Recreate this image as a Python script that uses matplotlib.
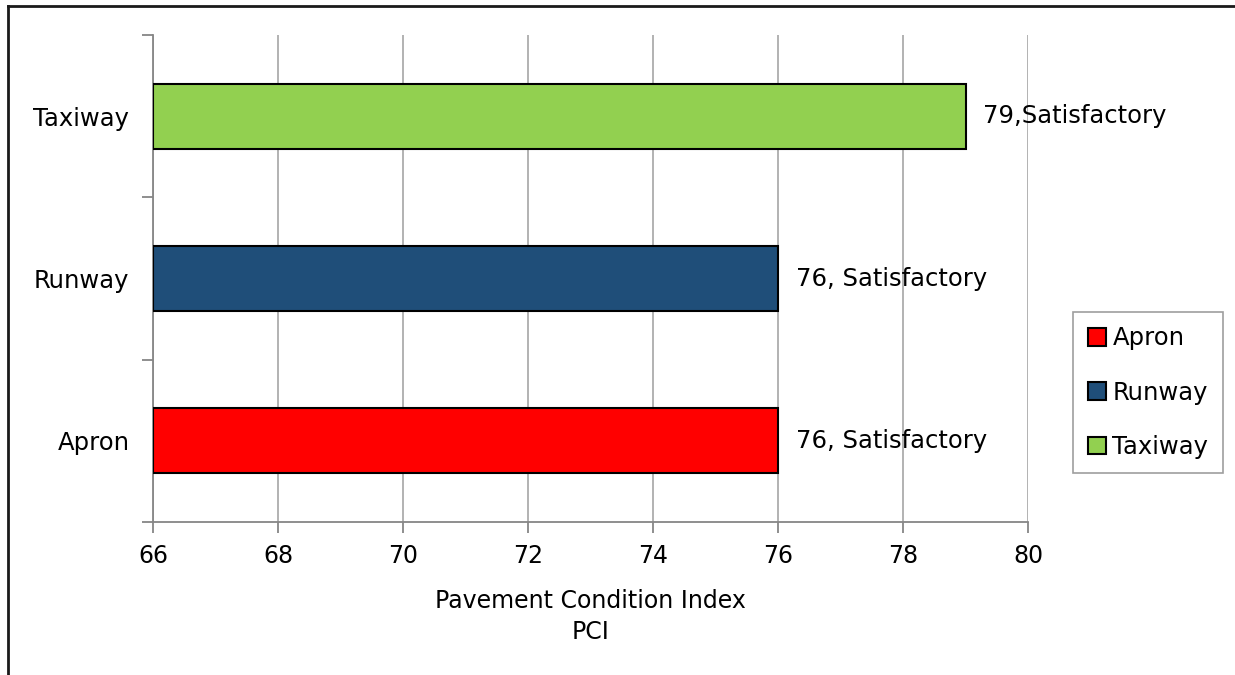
import matplotlib.pyplot as plt
from matplotlib.lines import Line2D
from matplotlib.patches import Patch

categories = ['Apron', 'Runway', 'Taxiway']
pci = [76, 76, 79]
ratings = ['76, Satisfactory', '76, Satisfactory', '79,Satisfactory']
colors = ['#ff0000', '#1f4e79', '#92d050']
xticks = [66, 68, 70, 72, 74, 76, 78, 80]

plt.rcParams['font.family'] = 'DejaVu Sans'
fig = plt.figure(figsize=(12.35, 6.75), dpi=100)
ax = fig.add_axes([0.1239, 0.2267, 0.7085, 0.7214])

ypos = range(len(categories))
ax.barh(ypos, [v - 66 for v in pci], left=66, height=0.4, color=colors,
        edgecolor='black', linewidth=1.5, zorder=3)

for y, v, txt in zip(ypos, pci, ratings):
    ax.text(v + 0.28, y, txt, va='center', ha='left', fontsize=17.5)

ax.set_xlim(66, 80)
ax.set_ylim(-0.5, 2.5)
ax.set_xticks(xticks)
ax.set_xticklabels([str(t) for t in xticks], fontsize=17)
ax.set_yticks([-0.5, 0.5, 1.5, 2.5])
ax.set_yticklabels([])
ax.set_yticks(list(ypos), minor=True)
ax.set_yticklabels(categories, minor=True, fontsize=17.5)
ax.tick_params(axis='y', which='minor', length=0, pad=17)
ax.tick_params(axis='y', which='major', length=8, color='#868686', width=1.3)
ax.tick_params(axis='x', length=8, color='#868686', width=1.3, pad=8)

ax.grid(axis='x', color='#a6a6a6', linewidth=1.2, zorder=0)
for side in ['top', 'right']:
    ax.spines[side].set_visible(False)
for side in ['left', 'bottom']:
    ax.spines[side].set_color('#868686')
    ax.spines[side].set_linewidth(1.3)

ax.set_xlabel('Pavement Condition Index\nPCI', fontsize=17, labelpad=15,
              linespacing=1.35)

handles = [Patch(facecolor=c, edgecolor='black', linewidth=1.5) for c in colors]
leg = fig.legend(handles, categories, loc='center left',
                 bbox_to_anchor=(0.8692, 0.4185), fontsize=17.5, frameon=True,
                 fancybox=False, edgecolor='#868686', handlelength=0.75,
                 handleheight=0.75, handletextpad=0.25, labelspacing=1.25,
                 borderpad=0.6, borderaxespad=0)
leg.get_frame().set_linewidth(1.2)

# outer border on the top and left edges
fig.add_artist(Line2D([8 / 1235, 1], [1 - 6 / 675, 1 - 6 / 675],
                      color='#1a1a1a', linewidth=2))
fig.add_artist(Line2D([8 / 1235, 8 / 1235], [0, 1 - 6 / 675],
                      color='#1a1a1a', linewidth=2))

fig.savefig('out.png', dpi=100)
